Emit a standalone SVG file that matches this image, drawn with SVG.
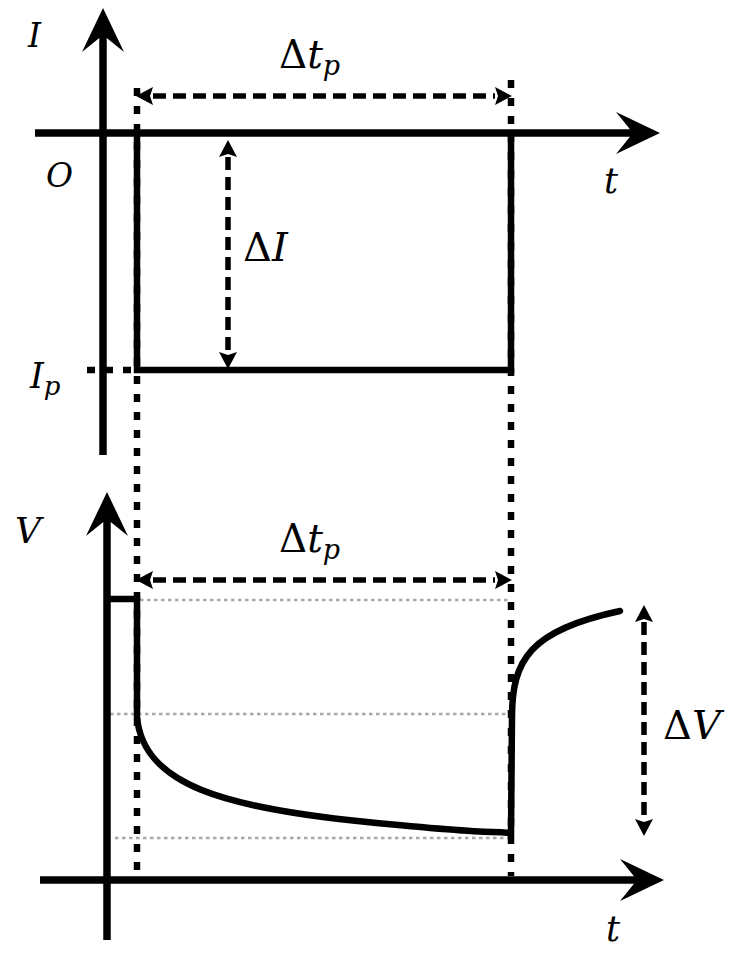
<svg xmlns="http://www.w3.org/2000/svg" width="734" height="954" viewBox="0 0 734 954">
<style>
.axis{stroke:#000;stroke-width:7.5;fill:none}
.solid{stroke:#000;stroke-width:6.5;fill:none;stroke-linejoin:miter}
.dotted{stroke:#000;stroke-width:6.5;stroke-dasharray:8 10;fill:none}
.dash{stroke:#000;stroke-width:5.5;stroke-dasharray:13 7;fill:none}
.guide{stroke:#a8a8a8;stroke-width:2.5;stroke-dasharray:3.5 3.5;fill:none}
.lbl{font-family:"DejaVu Serif","Liberation Serif",serif;font-style:italic;fill:#000}
.up{font-style:normal}
</style>
<defs>
<marker id="axh" viewBox="-46 -23 48 46" refX="-20" refY="0" markerWidth="48" markerHeight="46" markerUnits="userSpaceOnUse" orient="auto">
<path d="M0,0 L-44,-21 L-27,0 L-44,21 Z" fill="#000"/>
</marker>
<marker id="dah" viewBox="-1 -10 20 20" refX="0" refY="0" markerWidth="20" markerHeight="20" markerUnits="userSpaceOnUse" orient="auto-start-reverse">
<path d="M0,-9 L17,0 L0,9 L3,0 Z" fill="#000"/>
</marker>
</defs>

<g id="guides">
<line class="guide" x1="140" y1="600" x2="511" y2="600"/>
<line class="guide" x1="110" y1="714" x2="511" y2="714"/>
<line class="guide" x1="115" y1="838" x2="511" y2="838"/>
</g>

<g id="top-plot">
<line id="I-axis" class="axis" x1="103" y1="455" x2="103" y2="28" marker-end="url(#axh)"/>
<line id="t-axis-top" class="axis" x1="35" y1="133" x2="640" y2="133" marker-end="url(#axh)"/>
<path id="pulse" class="solid" d="M137,133 L137,370 L511,370 L511,133"/>
</g>

<g id="bottom-plot">
<line id="V-axis" class="axis" x1="107" y1="940" x2="107" y2="512" marker-end="url(#axh)"/>
<line id="t-axis-bottom" class="axis" x1="40" y1="880" x2="644" y2="880" marker-end="url(#axh)"/>
<path id="voltage" class="solid" stroke-linecap="round" d="M107,599 L137,599 L137,717 C143,785 225,808 367,822 S480,830 511,833 L512,717 C512,660 530,630 620,611"/>
</g>

<g id="connectors">
<line class="dotted" x1="137" y1="88" x2="137" y2="870"/>
<line class="dotted" x1="511" y1="80" x2="511" y2="876"/>
<line class="dotted" x1="87" y1="370" x2="137" y2="370"/>
<line class="dash" x1="153" y1="96" x2="495" y2="96" marker-start="url(#dah)" marker-end="url(#dah)"/>
<line class="dash" x1="153" y1="580" x2="495" y2="580" marker-start="url(#dah)" marker-end="url(#dah)"/>
<line class="dash" x1="228" y1="157" x2="228" y2="352" marker-start="url(#dah)" marker-end="url(#dah)"/>
<line class="dash" x1="644" y1="622" x2="644" y2="819" marker-start="url(#dah)" marker-end="url(#dah)"/>
</g>

<g id="labels">
<text class="lbl" x="28" y="47" font-size="33">I</text>
<text class="lbl" x="46" y="187" font-size="33">O</text>
<text class="lbl" x="604" y="193" font-size="35">t</text>
<text class="lbl" x="279" y="68" font-size="39"><tspan class="up">Δ</tspan>t<tspan font-size="27" dy="7">p</tspan></text>
<text class="lbl" x="243" y="261" font-size="40"><tspan class="up">Δ</tspan>I</text>
<text class="lbl" x="30" y="388" font-size="35">I<tspan font-size="26" dy="7">p</tspan></text>
<text class="lbl" x="15" y="543" font-size="36">V</text>
<text class="lbl" x="279" y="552" font-size="39"><tspan class="up">Δ</tspan>t<tspan font-size="27" dy="7">p</tspan></text>
<text class="lbl" x="663" y="739" font-size="40"><tspan class="up">Δ</tspan>V</text>
<text class="lbl" x="606" y="941" font-size="35">t</text>
</g>
</svg>
